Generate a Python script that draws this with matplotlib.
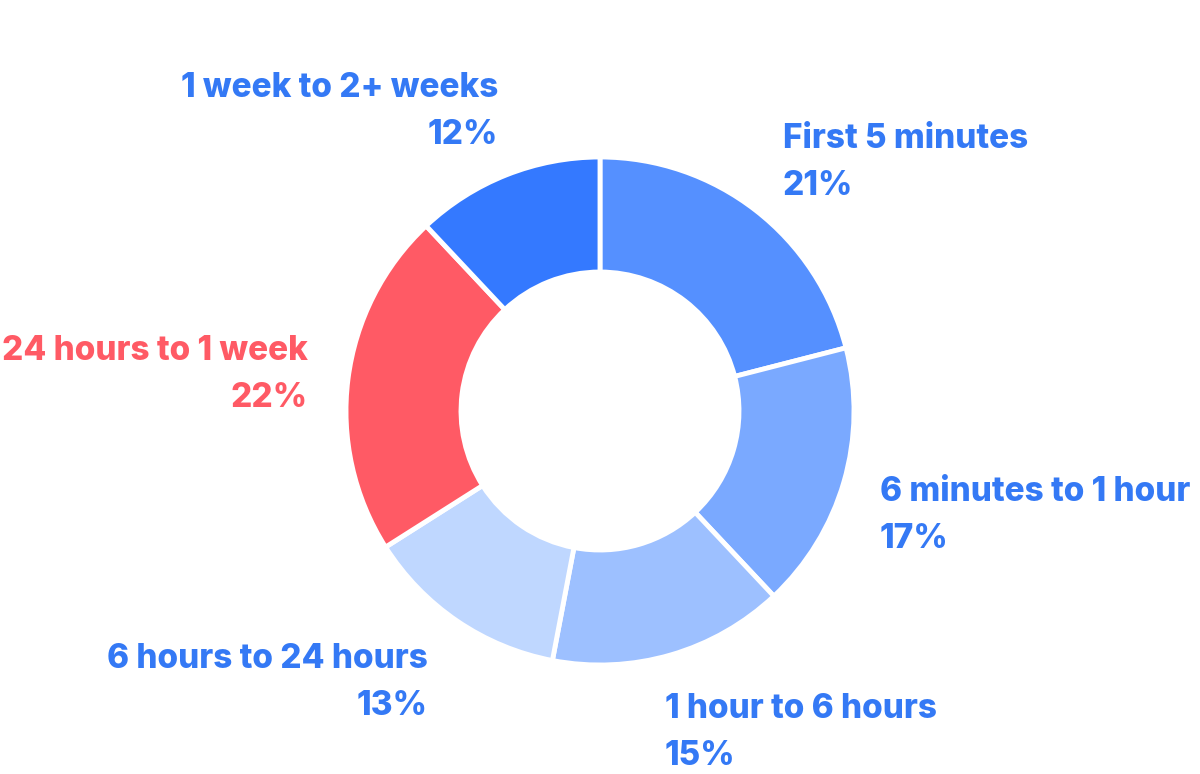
import matplotlib.pyplot as plt

# data
labels = ['First 5 minutes', '6 minutes to 1 hour', '1 hour to 6 hours',
          '6 hours to 24 hours', '24 hours to 1 week', '1 week to 2+ weeks']
shares = [21, 17, 15, 13, 22, 12]
colors = ['#5590FF', '#7AA9FF', '#9DC0FF', '#BFD7FF', '#FF5A65', '#3479FF']
text_colors = ['#3479F5', '#3479F5', '#3479F5', '#3479F5', '#FF5A65', '#3479F5']

# label anchor (x, y of first line, alignment) in pixel coords
label_pos = [(783, 139, 'left'), (880, 492, 'left'), (665, 709, 'left'),
             (428, 659, 'right'), (308, 351, 'right'), (498, 88, 'right')]

plt.rcParams['font.family'] = ['Inter', 'DejaVu Sans']

fig = plt.figure(figsize=(12, 7.74), dpi=100)
ax = fig.add_axes([0, 0, 1, 1])

R = 254
ax.pie(shares, colors=colors, startangle=90, counterclock=False,
       center=(600, -411), radius=R,
       wedgeprops=dict(width=115, edgecolor='white', linewidth=3.5))

for lab, val, col, (x, y, ha) in zip(labels, shares, text_colors, label_pos):
    ax.text(x, -y, lab, ha=ha, va='center', fontsize=24, fontweight='heavy', color=col)
    ax.text(x, -(y + 47), f'{val}%', ha=ha, va='center', fontsize=24,
            fontweight='heavy', color=col)

ax.set_xlim(0, 1200)
ax.set_ylim(-774, 0)
ax.set_aspect('equal')
ax.axis('off')

fig.savefig('out.png', dpi=100)
